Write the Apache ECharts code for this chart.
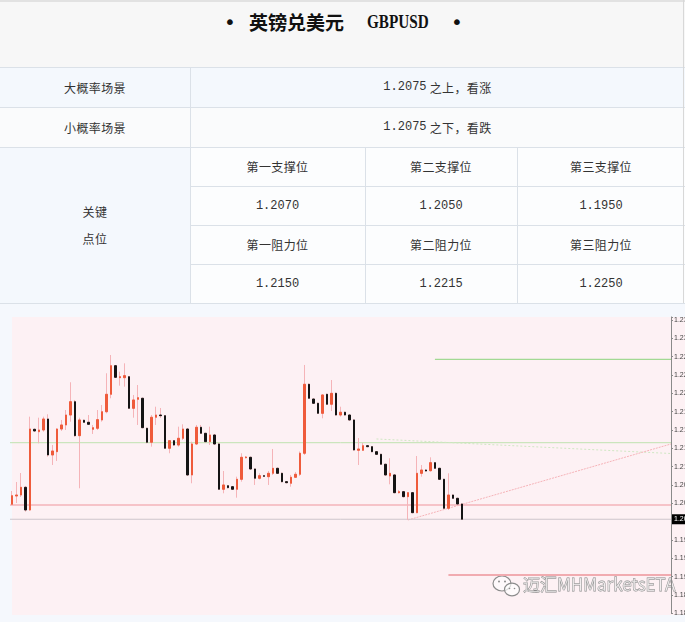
<!DOCTYPE html>
<html><head><meta charset="utf-8">
<script src="https://cdn.jsdelivr.net/npm/echarts@6/dist/echarts.min.js"></script>
<style>
html,body{margin:0;padding:0;background:#fff;width:685px;height:622px;overflow:hidden;}
body{position:relative;font-family:"Noto Sans CJK SC",sans-serif;color:#333;}
.abs{position:absolute;box-sizing:border-box;}
.cell{position:absolute;display:flex;align-items:center;justify-content:center;font-size:12px;letter-spacing:0.4px;color:#333;text-align:center;}
.hl{position:absolute;height:1px;background:#dbe1e8;}
.vl{position:absolute;width:1px;background:#dbe1e8;}
.num{font-family:"Liberation Mono",monospace;font-size:12px;letter-spacing:0;}
.ttl{position:absolute;top:8px;height:28px;line-height:28px;font-size:19px;color:#111;white-space:nowrap;}
.dot{position:absolute;top:8px;height:28px;line-height:28px;font-size:20px;color:#111;width:20px;text-align:center;font-family:"DejaVu Sans",sans-serif;}
</style></head><body>
<div class="abs" style="left:0;top:0;width:685px;height:2px;background:#e2e2e2"></div>
<div class="abs" style="left:0;top:2px;width:685px;height:65px;background:#f7f7f7"></div>
<div class="dot" style="left:220px;">•</div>
<div class="ttl" style="left:249px;font-weight:bold;">英镑兑美元</div>
<div class="ttl" style="left:367px;font-family:'Liberation Serif',serif;font-weight:bold;transform:scaleX(0.8);transform-origin:left center;">GBPUSD</div>
<div class="dot" style="left:447px;">•</div>

<div class="abs" style="left:0;top:67px;width:685px;height:40px;background:#f4f8fd"></div>
<div class="abs" style="left:0;top:107px;width:685px;height:40px;background:#fafbfc"></div>
<div class="abs" style="left:0;top:147px;width:190px;height:156px;background:#f4f8fd"></div>
<div class="abs" style="left:190px;top:147px;width:495px;height:156px;background:#fcfdfe"></div>
<div class="abs" style="left:0;top:303px;width:685px;height:319px;background:#f5f8fd"></div>

<div class="hl" style="left:0;top:67px;width:685px"></div>
<div class="hl" style="left:0;top:107px;width:685px"></div>
<div class="hl" style="left:0;top:147px;width:685px"></div>
<div class="hl" style="left:190px;top:186px;width:495px"></div>
<div class="hl" style="left:190px;top:225px;width:495px"></div>
<div class="hl" style="left:190px;top:264px;width:495px"></div>
<div class="hl" style="left:0;top:303px;width:685px"></div>
<div class="vl" style="left:190px;top:67px;height:236px"></div>
<div class="vl" style="left:365px;top:147px;height:156px"></div>
<div class="vl" style="left:517px;top:147px;height:156px"></div>
<div class="vl" style="left:683px;top:0;height:303px;background:#d8d8d8"></div>

<div class="cell" style="left:0;top:67px;width:190px;height:40px">大概率场景</div>
<div class="cell" style="left:190px;top:67px;width:495px;height:40px"><span class="num">1.2075</span>&nbsp;之上，看涨</div>
<div class="cell" style="left:0;top:107px;width:190px;height:40px">小概率场景</div>
<div class="cell" style="left:190px;top:107px;width:495px;height:40px"><span class="num">1.2075</span>&nbsp;之下，看跌</div>
<div class="cell" style="left:0;top:147px;width:190px;height:156px;line-height:27px">关键<br>点位</div>

<div class="cell" style="left:190px;top:147px;width:175px;height:39px">第一支撑位</div>
<div class="cell" style="left:365px;top:147px;width:152px;height:39px">第二支撑位</div>
<div class="cell" style="left:517px;top:147px;width:168px;height:39px">第三支撑位</div>
<div class="cell" style="left:190px;top:186px;width:175px;height:39px"><span class="num">1.2070</span></div>
<div class="cell" style="left:365px;top:186px;width:152px;height:39px"><span class="num">1.2050</span></div>
<div class="cell" style="left:517px;top:186px;width:168px;height:39px"><span class="num">1.1950</span></div>
<div class="cell" style="left:190px;top:225px;width:175px;height:39px">第一阻力位</div>
<div class="cell" style="left:365px;top:225px;width:152px;height:39px">第二阻力位</div>
<div class="cell" style="left:517px;top:225px;width:168px;height:39px">第三阻力位</div>
<div class="cell" style="left:190px;top:264px;width:175px;height:39px"><span class="num">1.2150</span></div>
<div class="cell" style="left:365px;top:264px;width:152px;height:39px"><span class="num">1.2215</span></div>
<div class="cell" style="left:517px;top:264px;width:168px;height:39px"><span class="num">1.2250</span></div>

<div class="abs" style="left:12px;top:317px;width:673px;height:298px;background:#fdf1f4"></div>
<div id="chart" class="abs" style="left:0;top:303px;width:685px;height:319px"></div>

<script>
// ---- data ----
const opens = [1.20434,1.20570,1.20586,1.20712,1.20341,1.21661,1.21622,1.21650,1.21830,1.21241,
1.21295,1.21666,1.21732,1.21895,1.22113,1.21557,1.21809,1.21776,1.21661,1.21678,
1.21814,1.21949,1.22234,1.22702,1.22506,1.22506,1.22522,1.22005,1.22152,1.22169,
1.21678,1.21449,1.21858,1.21895,1.21884,1.21351,1.21475,1.21404,1.21514,1.21666,
1.20914,1.21421,1.21694,1.21596,1.21459,1.21568,1.21421,1.20680,1.20738,1.20722,
1.20680,1.20843,1.21197,1.21203,1.21012,1.20860,1.20902,1.20886,1.20941,1.21023,
1.20941,1.20804,1.20778,1.20876,1.20925,1.21269,1.22398,1.22157,1.22087,1.21923,
1.22234,1.22071,1.22250,1.21895,1.21940,1.21895,1.21814,1.21318,1.21318,1.21393,
1.21377,1.21295,1.21252,1.21089,1.20897,1.20914,1.20624,1.20640,1.20559,1.20624,
1.20297,1.20941,1.20995,1.20984,1.21115,1.21023,1.20843,1.20369,1.20586,1.20532,
1.20439];
const highs = [1.20652,1.20799,1.20946,1.20734,1.21868,1.21675,1.21851,1.21868,1.21907,1.21404,
1.21678,1.21814,1.21977,1.22431,1.22141,1.21851,1.21822,1.21895,1.21732,1.21977,
1.22059,1.22578,1.22877,1.22714,1.22604,1.22741,1.22534,1.22223,1.22386,1.22179,
1.21688,1.21895,1.22031,1.22010,1.21895,1.21486,1.21486,1.21704,1.21743,1.21683,
1.21459,1.21732,1.21732,1.21601,1.21704,1.21585,1.21437,1.20979,1.20750,1.20734,
1.20886,1.21269,1.21224,1.21216,1.21020,1.20941,1.20914,1.20979,1.21339,1.21036,
1.20954,1.20815,1.20914,1.20963,1.21298,1.22714,1.22411,1.22165,1.22100,1.22234,
1.22247,1.22468,1.22264,1.22031,1.21953,1.21907,1.21825,1.21519,1.21437,1.21404,
1.21388,1.21306,1.21262,1.21098,1.21187,1.20925,1.20668,1.20652,1.20635,1.20635,
1.21224,1.21077,1.21007,1.21203,1.21126,1.21033,1.20853,1.20941,1.20598,1.20542,
1.20451];
const lows = [1.20423,1.20455,1.20554,1.20313,1.20329,1.21617,1.21432,1.21622,1.21213,1.21077,
1.21143,1.21634,1.21650,1.21786,1.21540,1.20696,1.21765,1.21732,1.21585,1.21650,
1.21786,1.21923,1.22169,1.22501,1.22375,1.22359,1.21994,1.21851,1.21732,1.21678,
1.21432,1.21377,1.21732,1.21846,1.21339,1.21269,1.21388,1.21377,1.21486,1.20897,
1.20778,1.21404,1.21585,1.21445,1.21404,1.21404,1.20668,1.20614,1.20693,1.20668,
1.20542,1.20804,1.21184,1.20995,1.20750,1.20840,1.20881,1.20750,1.20914,1.20930,
1.20791,1.20775,1.20722,1.20865,1.20897,1.21241,1.22157,1.22075,1.21912,1.21841,
1.22059,1.21961,1.21884,1.21868,1.21884,1.21802,1.21311,1.21077,1.21306,1.21367,
1.21285,1.21241,1.21077,1.20902,1.20761,1.20614,1.20611,1.20545,1.20177,1.20287,
1.20287,1.20886,1.20968,1.20968,1.21012,1.20832,1.20357,1.20341,1.20521,1.20428,
1.20177];
const closes = [1.20575,1.20586,1.20712,1.20341,1.21666,1.21634,1.21650,1.21830,1.21241,1.21306,
1.21666,1.21732,1.21895,1.22113,1.21557,1.21814,1.21776,1.21743,1.21688,1.21819,
1.21949,1.22234,1.22702,1.22512,1.22522,1.22539,1.22005,1.22141,1.22179,1.21688,
1.21449,1.21858,1.21895,1.21884,1.21351,1.21475,1.21404,1.21514,1.21666,1.20914,
1.21421,1.21694,1.21596,1.21459,1.21568,1.21421,1.20680,1.20750,1.20706,1.20680,
1.20843,1.21203,1.21208,1.21012,1.20860,1.20902,1.20892,1.20941,1.21023,1.20941,
1.20804,1.20788,1.20876,1.20925,1.21269,1.22398,1.22169,1.22087,1.21923,1.22223,
1.22071,1.22250,1.21895,1.21940,1.21895,1.21814,1.21323,1.21339,1.21393,1.21377,
1.21295,1.21252,1.21089,1.20914,1.20941,1.20624,1.20640,1.20559,1.20624,1.20297,
1.20941,1.20995,1.20979,1.21115,1.21023,1.20843,1.20369,1.20586,1.20532,1.20439,
1.20189];
// bar slots of the chart (101 bars + empty chart shift area)
const slotCount = 147;
const barSlots = Array.from({length: slotCount}, (_, i) => 'K' + (i + 1));
// price axis
const Y_MIN = 1.1865, Y_MAX = 1.2350, Y_STEP = 0.003;
// drawn levels and trend lines: [barSlot position, price]
const upperGreenLevel = [[94.5, 1.22807], [147, 1.22807]];
const middleGreenLevel = [[0, 1.21442], [147, 1.21442]];
const greenTrend = [[81.5, 1.21503], [147, 1.21265]];
const pinkLevel = [[0, 1.20423], [147, 1.20423]];
const currentPrice = [[0, 1.20189], [147, 1.20189]];
const lowerPinkLevel = [[97.5, 1.19277], [147, 1.19277]];
const pinkTrend = [[88.5, 1.20177], [147, 1.21421]];

// ---- chart ----
const UP = '#ef5b3b', DOWN = '#141414', WICK = '#f5b4b8';
const wickData = opens.map((o, i) => [o, closes[i], lows[i], highs[i]]);
const bodyData = opens.map((o, i) => [o, closes[i], Math.min(o, closes[i]), Math.max(o, closes[i])]);

function lineSeries(data, color, width, type, extra) {
  return Object.assign({
    type: 'line', xAxisIndex: 1, yAxisIndex: 0, data: data, symbol: 'none', silent: true, z: 1,
    lineStyle: {color: color, width: width, type: type || 'solid'}
  }, extra || {});
}

const chart = echarts.init(document.getElementById('chart'), null, {renderer: 'canvas'});
chart.setOption({
  animation: false,
  grid: {left: 10, right: 14, top: 13.94, bottom: 8.7, containLabel: false, outerBoundsMode: 'none'},
  xAxis: [
    {type: 'category', data: barSlots, boundaryGap: true, show: false},
    {type: 'value', min: 0, max: slotCount, show: false}
  ],
  yAxis: [{
    type: 'value', position: 'right', min: Y_MIN, max: Y_MAX, interval: Y_STEP,
    axisLine: {show: true, onZero: false, lineStyle: {color: '#8a8a8a', width: 1}},
    axisTick: {show: true, length: 2, lineStyle: {color: '#8a8a8a'}},
    splitLine: {show: false},
    axisLabel: {
      fontSize: 7, color: '#444', margin: 3, fontFamily: 'Liberation Sans',
      formatter: function (v) {
        const k = (v - Y_MIN) / Y_STEP;
        return Math.abs(k - Math.round(k)) < 1e-6 ? v.toFixed(5) : '';
      }
    }
  }],
  series: [
    lineSeries(middleGreenLevel, '#bfe2b0', 1),
    lineSeries(upperGreenLevel, '#a2d993', 1.2),
    lineSeries(greenTrend, '#cfe7c3', 1, [2, 2]),
    lineSeries(pinkLevel, '#f6c3c8', 2),
    lineSeries(lowerPinkLevel, '#f1abb0', 2),
    lineSeries(pinkTrend, '#f5b3b8', 1, [2, 1]),
    lineSeries(currentPrice, '#cdc5cb', 1, 'solid', {
      endLabel: {
        show: true, distance: 1, fontSize: 7, color: '#fff', backgroundColor: '#000',
        padding: [2, 2, 1, 2], fontFamily: 'Liberation Sans',
        formatter: function (p) { return p.value[1].toFixed(5); }
      }
    }),
    {
      type: 'candlestick', xAxisIndex: 0, yAxisIndex: 0, data: wickData, barWidth: 2, silent: true, z: 2,
      itemStyle: {color: WICK, color0: WICK, borderColor: WICK, borderColor0: WICK, borderWidth: 1}
    },
    {
      type: 'candlestick', xAxisIndex: 0, yAxisIndex: 0, data: bodyData, barWidth: 2, silent: true, z: 3,
      itemStyle: {color: UP, color0: DOWN, borderColor: UP, borderColor0: DOWN, borderWidth: 1}
    }
  ],
  graphic: {elements: [
    {type: 'ellipse', silent: true, shape: {cx: 502, cy: 280.5, rx: 9, ry: 7.5},
     style: {fill: 'rgba(255,255,255,0.6)', stroke: '#8c8c8c', lineWidth: 1.2}},
    {type: 'ellipse', silent: true, shape: {cx: 512, cy: 286.5, rx: 7.5, ry: 6.3},
     style: {fill: 'rgba(255,255,255,0.7)', stroke: '#8c8c8c', lineWidth: 1.2}},
    {type: 'circle', silent: true, shape: {cx: 499, cy: 278.5, r: 1}, style: {fill: '#8c8c8c'}},
    {type: 'circle', silent: true, shape: {cx: 505, cy: 278.5, r: 1}, style: {fill: '#8c8c8c'}},
    {type: 'circle', silent: true, shape: {cx: 509.5, cy: 285.5, r: 0.8}, style: {fill: '#8c8c8c'}},
    {type: 'circle', silent: true, shape: {cx: 514.5, cy: 285.5, r: 0.8}, style: {fill: '#8c8c8c'}},
    {type: 'text', silent: true, x: 523, y: 282,
     style: {text: '迈汇MHMarketsETA', font: '17px "Noto Sans CJK SC", sans-serif',
             fill: 'rgba(255,255,255,0.55)', stroke: '#8a8a8a', lineWidth: 0.8,
             textVerticalAlign: 'middle'}}
  ]}
});
</script>
</body></html>
